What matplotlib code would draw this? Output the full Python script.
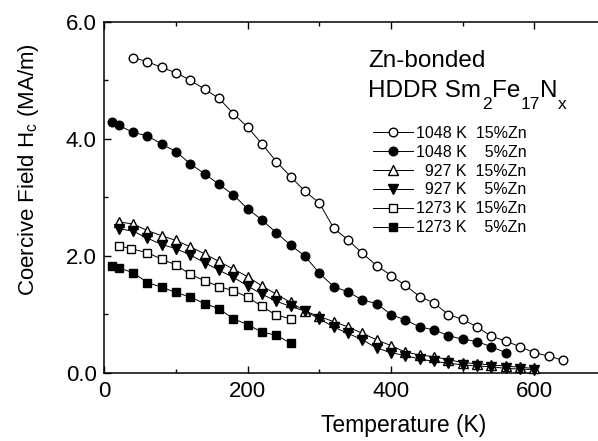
import matplotlib
matplotlib.use("Agg")
import matplotlib.pyplot as plt
from matplotlib.ticker import MultipleLocator, FormatStrFormatter

plt.rcParams['font.family'] = ['Liberation Sans', 'DejaVu Sans']
plt.rcParams['mathtext.fontset'] = 'custom'
plt.rcParams['mathtext.rm'] = 'Liberation Sans'
plt.rcParams['mathtext.it'] = 'Liberation Sans'
plt.rcParams['mathtext.default'] = 'regular'

# ---- data (T in K, Hc in MA/m) ----
t_1048_15 = [40, 60, 80, 100, 120, 140, 160, 180, 200, 220, 240, 260, 280, 300, 320,
             340, 360, 380, 400, 420, 440, 460, 480, 500, 520, 540, 560, 580, 600, 620, 640]
h_1048_15 = [5.39, 5.32, 5.22, 5.13, 5.00, 4.85, 4.69, 4.43, 4.20, 3.91, 3.61, 3.35, 3.10, 2.90, 2.47,
             2.27, 2.04, 1.83, 1.66, 1.49, 1.30, 1.19, 0.99, 0.91, 0.78, 0.62, 0.54, 0.44, 0.34, 0.28, 0.21]

t_1048_5 = [10, 20, 40, 60, 80, 100, 120, 140, 160, 180, 200, 220, 240, 260, 280,
            300, 320, 340, 360, 380, 400, 420, 440, 460, 480, 500, 520, 540, 560]
h_1048_5 = [4.28, 4.23, 4.11, 4.05, 3.91, 3.78, 3.57, 3.40, 3.22, 3.04, 2.80, 2.61, 2.39, 2.18, 1.99,
            1.70, 1.47, 1.38, 1.24, 1.18, 0.99, 0.90, 0.78, 0.73, 0.63, 0.57, 0.53, 0.44, 0.34]

t_927_15 = [20, 40, 60, 80, 100, 120, 140, 160, 180, 200, 220, 240, 260, 280, 300,
            320, 340, 360, 380, 400, 420, 440, 460, 480, 500, 520, 540, 560, 580, 600]
h_927_15 = [2.58, 2.54, 2.43, 2.34, 2.26, 2.15, 2.03, 1.90, 1.77, 1.64, 1.48, 1.34, 1.20, 1.05, 0.96,
            0.87, 0.78, 0.67, 0.56, 0.46, 0.35, 0.30, 0.27, 0.22, 0.17, 0.15, 0.13, 0.11, 0.09, 0.07]

t_927_5 = [20, 40, 60, 80, 100, 120, 140, 160, 180, 200, 220, 240, 260, 280, 300,
           320, 340, 360, 380, 400, 420, 440, 460, 480, 500, 520, 540, 560, 580, 600]
h_927_5 = [2.46, 2.42, 2.30, 2.19, 2.12, 2.01, 1.88, 1.75, 1.63, 1.48, 1.34, 1.22, 1.13, 1.05, 0.92,
           0.78, 0.67, 0.56, 0.42, 0.34, 0.29, 0.23, 0.19, 0.16, 0.13, 0.11, 0.10, 0.07, 0.06, 0.05]

t_1273_15 = [20, 37, 60, 80, 100, 120, 140, 160, 180, 200, 220, 240, 260]
h_1273_15 = [2.17, 2.12, 2.05, 1.94, 1.84, 1.68, 1.57, 1.47, 1.40, 1.29, 1.13, 0.98, 0.92]

t_1273_5 = [10, 20, 40, 60, 80, 100, 120, 140, 160, 180, 200, 220, 240, 260]
h_1273_5 = [1.82, 1.79, 1.71, 1.54, 1.46, 1.37, 1.29, 1.18, 1.09, 0.92, 0.82, 0.69, 0.64, 0.50]

temp_labels = ["1048 K", "1048 K", "\u2007927 K", "\u2007927 K", "1273 K", "1273 K"]
zn_labels = ["15%Zn", "\u20075%Zn", "15%Zn", "\u20075%Zn", "15%Zn", "\u20075%Zn"]

series = [
    (t_1048_15, h_1048_15, 'o', 'white'),
    (t_1048_5, h_1048_5, 'o', 'black'),
    (t_927_15, h_927_15, '^', 'white'),
    (t_927_5, h_927_5, 'v', 'black'),
    (t_1273_15, h_1273_15, 's', 'white'),
    (t_1273_5, h_1273_5, 's', 'black'),
]

fig = plt.figure(figsize=(5.98, 4.41), dpi=100)
ax = fig.add_axes([0.1745, 0.1553, 0.839, 0.795])

handles = []
for (t, h, m, fc) in series:
    ms = 6.2 if m == 'o' else (6.6 if m in '^v' else 5.6)
    ln, = ax.plot(t, h, color='black', lw=0.7, marker=m, ms=ms, mfc=fc, mec='black', mew=1.0,
                  clip_on=False, zorder=3)
    handles.append(ln)

ax.set_xlim(0, 700)
ax.set_ylim(0, 6.0)
ax.xaxis.set_major_locator(MultipleLocator(200))
ax.xaxis.set_minor_locator(MultipleLocator(100))
ax.yaxis.set_major_locator(MultipleLocator(2))
ax.yaxis.set_minor_locator(MultipleLocator(1))
ax.yaxis.set_major_formatter(FormatStrFormatter('%.1f'))
ax.tick_params(which='both', direction='in', top=True, right=True, width=1.0, labelsize=16)
ax.tick_params(axis='x', pad=6)
ax.tick_params(axis='y', pad=5.5)
ax.tick_params(which='major', length=5)
ax.tick_params(which='minor', length=3)
for s in ax.spines.values():
    s.set_linewidth(1.1)

ax.set_xlabel('Temperature (K)', fontsize=16.5, va='center', ha='center')
ax.xaxis.set_label_coords(0.597, -0.152)
ax.set_ylabel('Coercive Field H$_c$ (MA/m)', fontsize=16, va='center', ha='center')
ax.yaxis.set_label_coords(-0.152, 0.578)

# annotation block
ax.text(0.526, 0.8716, 'Zn-bonded', transform=ax.transAxes, fontsize=17.5,
        ha='left', va='baseline')

title_parts = [("HDDR Sm", False), ("2", True), ("Fe", False), ("17", True), ("N", False), ("x", True)]
main_fs, sub_fs, sub_drop = 17.5, 12.5, 7.5
first = ax.text(0.526, 0.786, title_parts[0][0], transform=ax.transAxes, fontsize=main_fs,
                ha='left', va='baseline')
prev = first
for txt, is_sub in title_parts[1:]:
    prev = ax.annotate(txt, xy=(1, 0), xycoords=(prev, first), xytext=(0.3, -sub_drop if is_sub else 0),
                       textcoords='offset points', fontsize=sub_fs if is_sub else main_fs,
                       ha='left', va='bottom')

labels = [f"{a}  {b}" for a, b in zip(temp_labels, zn_labels)]
leg = ax.legend(handles, labels, loc='upper left', bbox_to_anchor=(0.52, 0.726),
                frameon=False, fontsize=11.5, handlelength=2.5, handletextpad=0.2,
                labelspacing=0.24, borderpad=0.0)

fig.savefig('out.png', dpi=100)
